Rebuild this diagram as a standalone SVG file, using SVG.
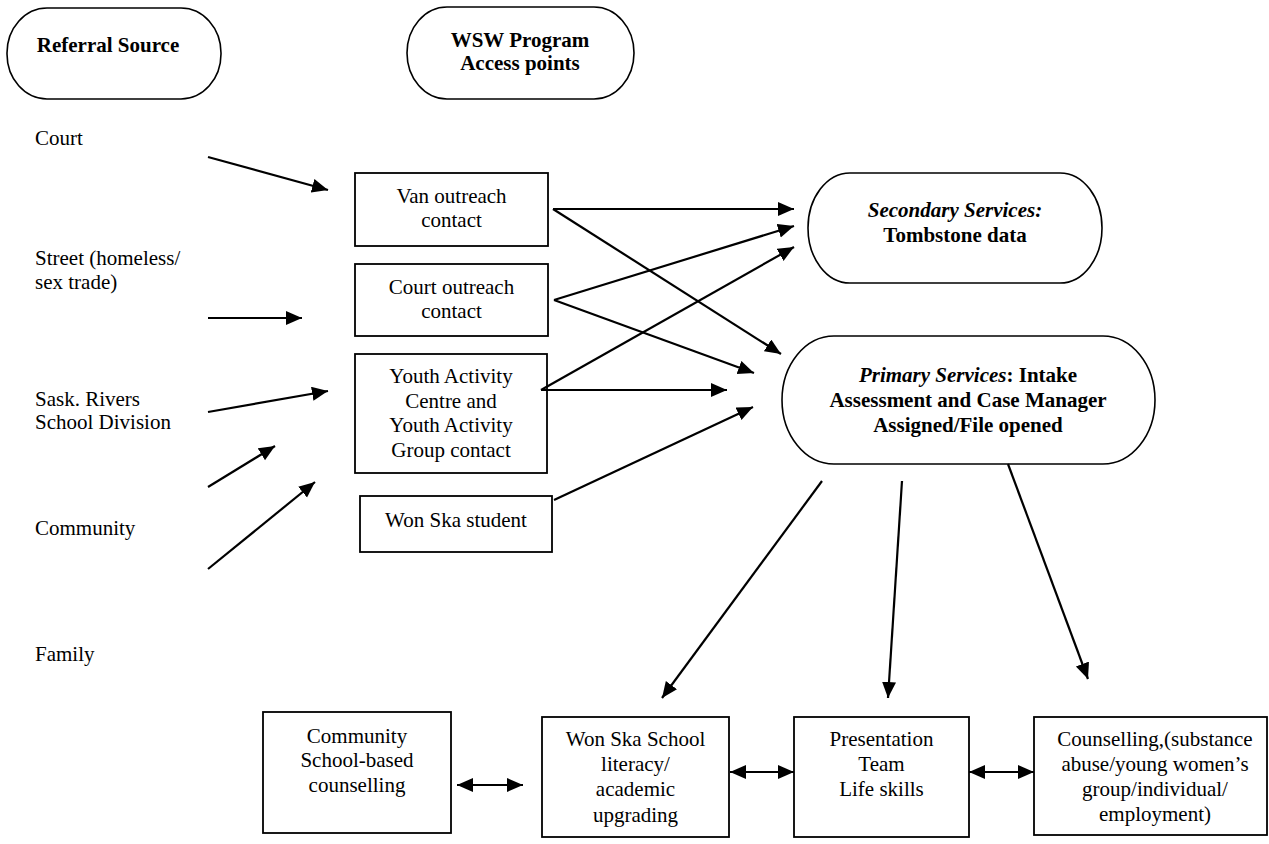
<svg xmlns="http://www.w3.org/2000/svg" width="1269" height="844" viewBox="0 0 1269 844">
<style>
text{font-family:"Liberation Serif","Times New Roman",serif;font-size:21px;fill:#000}
.c{text-anchor:middle}
.b{font-weight:bold}
.i{font-style:italic}
.box{fill:#fff;stroke:#000;stroke-width:1.8}
.ov{fill:#fff;stroke:#000;stroke-width:1.6}
.ln{stroke:#000;stroke-width:2.2;fill:none;marker-end:url(#ah)}
.dl{stroke:#000;stroke-width:2.2;fill:none;marker-end:url(#ah);marker-start:url(#ah)}
</style>
<defs>
<marker id="ah" markerUnits="userSpaceOnUse" markerWidth="17" markerHeight="15" refX="16" refY="7" orient="auto-start-reverse">
<path d="M0,0 L16,7 L0,14 z" fill="#000"/>
</marker>
</defs>
<rect width="1269" height="844" fill="#fff"/>
<g id="referral-source">
<rect class="ov" x="7" y="8" width="214" height="91" rx="40" ry="45"/>
<text class="c b" x="108" y="52">Referral Source</text>
</g>
<g id="wsw-access">
<rect class="ov" x="407" y="7" width="227" height="92" rx="40" ry="46"/>
<text class="c b" x="520" y="47">WSW Program</text>
<text class="c b" x="520" y="70">Access points</text>
</g>
<g id="labels">
<text x="35" y="145">Court</text>
<text x="35" y="265">Street (homeless/</text>
<text x="35" y="289">sex trade)</text>
<text x="35" y="406">Sask. Rivers</text>
<text x="35" y="429">School Division</text>
<text x="35" y="535">Community</text>
<text x="35" y="661">Family</text>
</g>
<g id="van-outreach">
<rect class="box" x="355" y="173" width="193" height="73"/>
<text class="c" x="451.5" y="203">Van outreach</text>
<text class="c" x="451.5" y="227">contact</text>
</g>
<g id="court-outreach">
<rect class="box" x="355" y="264" width="193" height="72"/>
<text class="c" x="451.5" y="294">Court outreach</text>
<text class="c" x="451.5" y="318">contact</text>
</g>
<g id="youth-activity">
<rect class="box" x="355" y="354" width="192" height="119"/>
<text class="c" x="451" y="383">Youth Activity</text>
<text class="c" x="451" y="407.5">Centre and</text>
<text class="c" x="451" y="432">Youth Activity</text>
<text class="c" x="451" y="456.5">Group contact</text>
</g>
<g id="won-ska-student">
<rect class="box" x="360" y="496" width="192" height="56"/>
<text class="c" x="456" y="527">Won Ska student</text>
</g>
<g id="secondary-services">
<rect class="ov" x="808" y="173" width="294" height="110" rx="42" ry="55"/>
<text class="c b i" x="955" y="217">Secondary Services:</text>
<text class="c b" x="955" y="242">Tombstone data</text>
</g>
<g id="primary-services">
<rect class="ov" x="782" y="336" width="373" height="128" rx="52" ry="64"/>
<text class="c b" x="968" y="382"><tspan class="i">Primary Services</tspan>: Intake</text>
<text class="c b" x="968" y="407">Assessment and Case Manager</text>
<text class="c b" x="968" y="432">Assigned/File opened</text>
</g>
<g id="community-counselling">
<rect class="box" x="263" y="712" width="188" height="121"/>
<text class="c" x="357" y="743">Community</text>
<text class="c" x="357" y="767">School-based</text>
<text class="c" x="357" y="792">counselling</text>
</g>
<g id="won-ska-school">
<rect class="box" x="542" y="717" width="187" height="120"/>
<text class="c" x="635.5" y="746">Won Ska School</text>
<text class="c" x="635.5" y="771">literacy/</text>
<text class="c" x="635.5" y="796">academic</text>
<text class="c" x="635.5" y="822">upgrading</text>
</g>
<g id="presentation-team">
<rect class="box" x="794" y="717" width="175" height="120"/>
<text class="c" x="881.5" y="746">Presentation</text>
<text class="c" x="881.5" y="771">Team</text>
<text class="c" x="881.5" y="796">Life skills</text>
</g>
<g id="counselling">
<rect class="box" x="1034" y="717" width="233" height="118"/>
<text class="c" x="1155" y="746">Counselling,(substance</text>
<text class="c" x="1155" y="771">abuse/young women’s</text>
<text class="c" x="1155" y="796">group/individual/</text>
<text class="c" x="1155" y="821">employment)</text>
</g>
<g id="connectors">
<line class="ln" x1="208" y1="157" x2="328" y2="190"/>
<line class="ln" x1="208" y1="318" x2="302" y2="318"/>
<line class="ln" x1="208" y1="412" x2="328" y2="391"/>
<line class="ln" x1="208" y1="487" x2="275" y2="446"/>
<line class="ln" x1="208" y1="569" x2="315" y2="482"/>
<line class="ln" x1="553" y1="209" x2="794" y2="209"/>
<line class="ln" x1="553" y1="209" x2="781" y2="354"/>
<line class="ln" x1="554" y1="300" x2="794" y2="226"/>
<line class="ln" x1="554" y1="300" x2="754" y2="373"/>
<line class="ln" x1="541" y1="390" x2="794" y2="247"/>
<line class="ln" x1="541" y1="390" x2="727" y2="390"/>
<line class="ln" x1="554" y1="500" x2="753" y2="407"/>
<line class="ln" x1="822" y1="481" x2="662" y2="698"/>
<line class="ln" x1="902" y1="481" x2="888" y2="698"/>
<line class="ln" x1="1008" y1="464" x2="1088" y2="679"/>
<line class="dl" x1="457" y1="785" x2="523" y2="785"/>
<line class="dl" x1="730" y1="772" x2="794" y2="772"/>
<line class="dl" x1="969" y1="772" x2="1034" y2="772"/>
</g>
</svg>
